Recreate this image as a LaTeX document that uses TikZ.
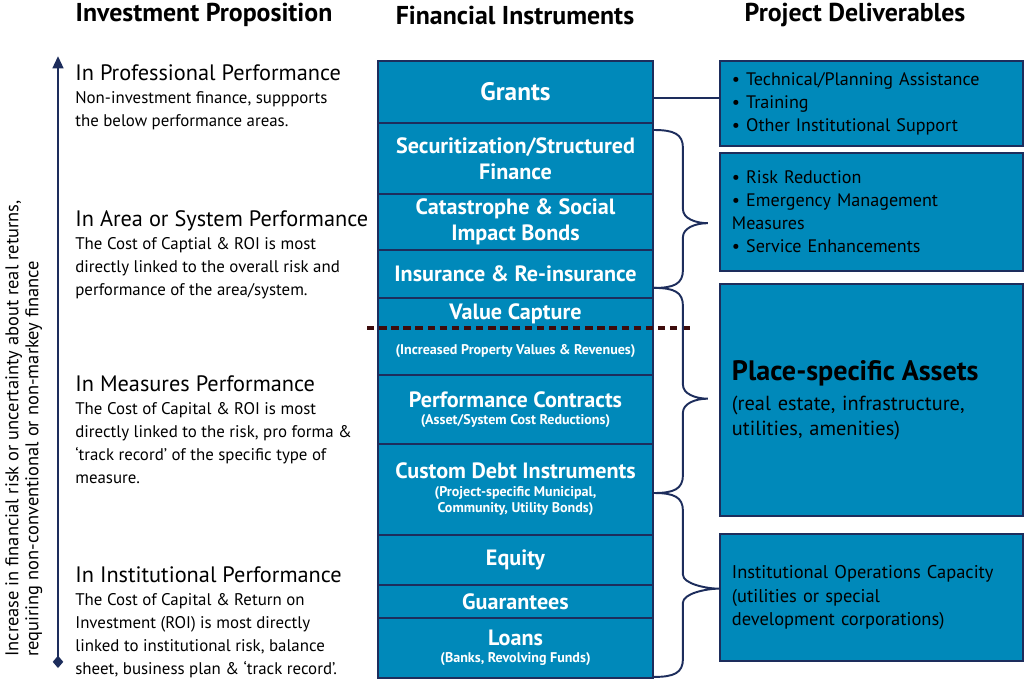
\documentclass[tikz,border=0pt]{standalone}
\usepackage{fontspec}
\setmainfont{PT Sans}
\usepackage{tikz}
\usetikzlibrary{positioning,calc,arrows.meta}
\definecolor{instblue}{HTML}{0089BA}
\definecolor{navy}{HTML}{1D2D5C}
\definecolor{cutred}{HTML}{3D0C0C}
\newcommand{\finesub}{\fontsize{8}{9.6}\selectfont}
\newcommand{\proptitle}{\fontsize{12.7}{13.1}\selectfont}

\begin{document}
\begin{tikzpicture}[
  x=0.02cm, y=-0.02cm,
  >=Stealth,
  colhdr/.style={font=\bfseries\fontsize{14.7}{16}\selectfont},
  instr/.style={rectangle, draw=navy, line width=1.1pt, fill=instblue, text=white,
                minimum width=5.5cm, align=center, inner sep=0pt, anchor=north,
                font=\bfseries\fontsize{12.6}{14.8}\selectfont},
  deliv/.style={rectangle, draw=navy, line width=1.1pt, fill=instblue, anchor=north west,
                text width=5.58cm, inner xsep=0.24cm, inner ysep=0pt, align=left,
                font=\fontsize{10.3}{13.1}\selectfont},
  prop/.style={anchor=north west, align=left, inner sep=0pt,
               font=\fontsize{9.6}{13.1}\selectfont},
  link/.style={draw=navy, line width=1.1pt},
  bracket/.style n args={2}{to path={let \p1=(\tikztostart), \p2=(\tikztotarget),
               \n1={\y1+#1*(\y2-\y1)} in
               (\p1) .. controls +(0.4cm,0) and +(0,0.28cm) .. (\x1+0.58cm,\y1-0.36cm)
               -- (\x1+0.58cm,\n1+0.28cm)
               .. controls +(0,-0.18cm) and +(-0.26cm,0) .. (\x1+#2,\n1+0pt)
               .. controls +(-0.26cm,0) and +(0,0.18cm) .. (\x1+0.58cm,\n1-0.28cm)
               -- (\x1+0.58cm,\y2+0.36cm)
               .. controls +(0,-0.28cm) and +(0.4cm,0) .. (\p2)}},
]
\useasboundingbox (0,0) rectangle (1024,680);

\node[colhdr] (hprop) at (204,15) {Investment Proposition};
\node[colhdr] (hinst) at (515,15) {Financial Instruments};
\node[colhdr] (hdeliv) at (855,15) {Project Deliverables};

\coordinate (rlow) at (58,668);
\coordinate (rhigh) at (58,56);
\draw[navy, line width=1.5pt, {Diamond[width=6pt,length=7pt]}-{Triangle[width=6pt,length=7pt]}] (rlow) -- (rhigh);
\node[rotate=90, anchor=north west, inner sep=0pt, align=left, font=\fontsize{10.5}{11.4}\selectfont] (risklbl) at (5,657)
  {Increase in financial risk or uncertainty about real returns,\\requiring non-conventional or non-markey finance};

\node[prop] (pprof) at (75,64) {{\proptitle In Professional Performance}\\Non-investment finance, suppports\\the below performance areas.};
\node[prop] (parea) at (75,210) {{\proptitle In Area or System Performance}\\The Cost of Captial \& ROI is most\\directly linked to the overall risk and\\performance of the area/system.};
\node[prop] (pmeas) at (75,375) {{\proptitle In Measures Performance}\\The Cost of Capital \& ROI is most\\directly linked to the risk, pro forma \&\\`track record' of the specific type of\\measure.};
\node[prop] (pinst) at (75,566) {{\proptitle In Institutional Performance}\\The Cost of Capital \& Return on\\Investment (ROI) is most directly\\linked to institutional risk, balance\\sheet, business plan \& `track record'.};

\node[instr, minimum height=1.24cm] (grants) at (515.5,60) {\fontsize{14.4}{15}\selectfont Grants};
\node[instr, minimum height=1.42cm] (secur) at (515.5,122) {Securitization/Structured\\Finance};
\node[instr, minimum height=1.12cm] (cat) at (515.5,193) {Catastrophe \& Social\\Impact Bonds};
\node[instr, minimum height=0.96cm] (ins) at (515.5,249) {Insurance \& Re-insurance};
\node[instr, minimum height=1.54cm] (valcap) at (515.5,297) {Value Capture\\[5.2pt]\finesub (Increased Property Values \& Revenues)\\[-6pt]\mbox{}};
\node[instr, minimum height=1.38cm] (perf) at (515.5,374) {Performance Contracts\\[-5pt]\finesub (Asset/System Cost Reductions)};
\node[instr, minimum height=1.82cm] (debt) at (515.5,443) {Custom Debt Instruments\\[-5pt]\finesub (Project-specific Municipal,\\[-5.3pt]\finesub Community, Utility Bonds)};
\node[instr, minimum height=1.0cm] (equity) at (515.5,534) {Equity};
\node[instr, minimum height=0.66cm] (guar) at (515.5,584) {Guarantees};
\node[instr, minimum height=1.2cm] (loans) at (515.5,617) {Loans\\[-5pt]\finesub (Banks, Revolving Funds)};

\coordinate (cutL) at (367,328);
\coordinate (cutR) at (693,328);
\draw[cutred, line width=1.9pt, dash pattern=on 4.2pt off 2.7pt] (cutL) -- (cutR);

\node[deliv, minimum height=1.7cm] (tech) at (719,60) {\textbullet\ Technical/Planning Assistance\\\textbullet\ Training\\\textbullet\ Other Institutional Support};
\node[deliv, minimum height=2.36cm] (risk) at (719,152) {\textbullet\ Risk Reduction\\\textbullet\ Emergency Management\\Measures\\\textbullet\ Service Enhancements};
\node[deliv, minimum height=4.64cm, font=\fontsize{11.6}{14.2}\selectfont] (assets) at (719,283) {{\bfseries\fontsize{16}{16}\selectfont Place-specific Assets}\\[3pt](real estate, infrastructure,\\utilities, amenities)};
\node[deliv, minimum height=2.54cm, font=\fontsize{10.5}{13.1}\selectfont] (instcap) at (719,533) {Institutional Operations Capacity\\(utilities or special\\development corporations)};

\draw[link] ($(grants.east)+(0,6)$) -- ($(grants.east -| tech.west)+(0,6)$);

\coordinate (bA) at ($(secur.north east)+(0,8)$);
\coordinate (bB) at ($(ins.south east)+(0,-11)$);
\coordinate (bC) at ($(debt.north east)+(0,50)$);
\coordinate (bD) at ($(loans.south east)+(0,-2)$);
\draw[link] (bA) to[bracket={0.59}{1.08cm}] (bB);
\draw[link] (bB) to[bracket={0.54}{1.08cm}] (bC);
\draw[link] (bC) to[bracket={0.52}{1.30cm}] (bD);

\end{tikzpicture}
\end{document}
